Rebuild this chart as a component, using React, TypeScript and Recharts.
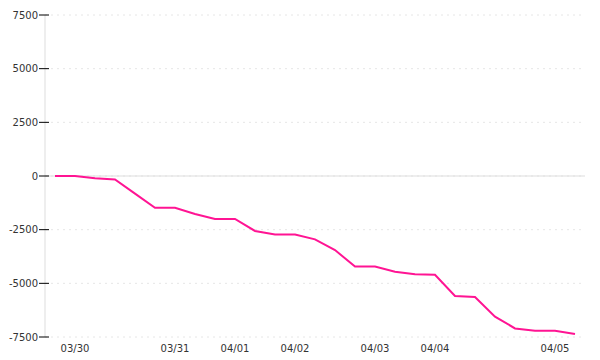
import { LineChart, Line, XAxis, YAxis, CartesianGrid, ReferenceLine } from 'recharts';

// day of each sample (one sample per step along the x axis)
const days = [
  '03/29', '03/30', '03/30', '03/30', '03/30', '03/30',
  '03/31', '03/31', '03/31',
  '04/01', '04/01', '04/01',
  '04/02', '04/02', '04/02', '04/02',
  '04/03', '04/03', '04/03',
  '04/04', '04/04', '04/04', '04/04', '04/04', '04/04',
  '04/05', '04/05',
];

const values = [
  0, 0, -110, -160, -820, -1480,
  -1480, -1770, -2000,
  -2000, -2560, -2730,
  -2730, -2950, -3450, -4220,
  -4220, -4460, -4580,
  -4600, -5590, -5640, -6550, -7100, -7210,
  -7210, -7360,
];

const yTicks = [-7500, -5000, -2500, 0, 2500, 5000, 7500];

const data = days.map((day, i) => ({ key: `${day}#${i}`, value: values[i] }));

// only label the first sample of each new day
const dayLabel = (v: string, i: number) => {
  if (i === 0) return '';
  return days[i] !== days[i - 1] ? days[i] : '';
};

const FONT = '"DejaVu Sans", sans-serif';

function YTick({ x, y, payload }: any) {
  return (
    <g>
      <line x1={x + 1} x2={x + 11} y1={y} y2={y} stroke="#000" />
      <text x={x} y={y} dy="0.355em" textAnchor="end" fill="#333" fontSize={10} fontFamily={FONT}>
        {payload.value}
      </text>
    </g>
  );
}

export default function App() {
  return (
    <div style={{ position: 'absolute', left: 0, top: 0, width: 600, height: 360, background: '#fff' }}>
      <LineChart width={600} height={360} data={data} margin={{ top: 15, right: 15, left: 0, bottom: 0 }}>
        <CartesianGrid vertical={false} stroke="#e6e6e6" strokeDasharray="2 4" />
        <XAxis
          dataKey="key"
          interval={0}
          axisLine={false}
          tickLine={false}
          height={23}
          padding={{ left: 10, right: 10 }}
          tickFormatter={dayLabel}
          tick={{ fill: '#333', fontSize: 10, fontFamily: FONT }}
        />
        <YAxis
          width={45}
          domain={[-7500, 7500]}
          ticks={yTicks}
          interval={0}
          axisLine={{ stroke: '#ddd' }}
          tickLine={false}
          tickSize={5}
          tickMargin={2}
          tick={<YTick />}
        />
        <ReferenceLine y={0} stroke="#ddd" />
        <Line
          type="linear"
          dataKey="value"
          stroke="#ff1493"
          strokeWidth={2}
          dot={false}
          isAnimationActive={false}
        />
      </LineChart>
    </div>
  );
}
